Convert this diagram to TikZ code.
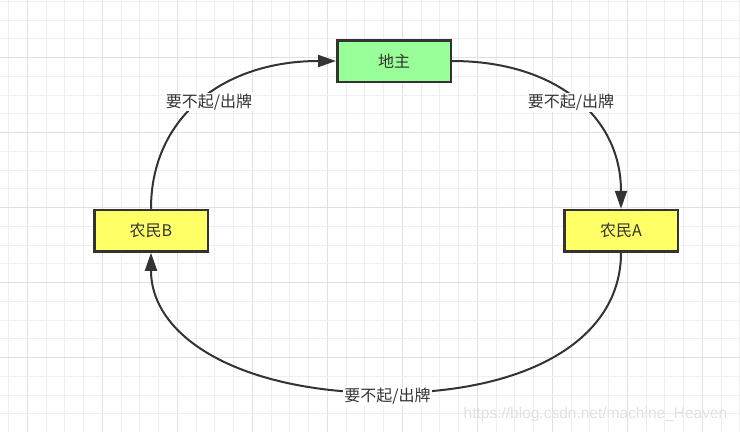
\documentclass[tikz,border=0pt]{standalone}
\usepackage{fontspec}
\setmainfont{Noto Sans CJK SC}
\newfontfamily\wmfont{Liberation Sans}
\usetikzlibrary{arrows.meta}
\definecolor{gridminor}{HTML}{EFEFEF}
\definecolor{gridmajor}{HTML}{E0E0E0}
\definecolor{strokec}{HTML}{333333}
\definecolor{greenfill}{HTML}{99FF99}
\definecolor{yellowfill}{HTML}{FFFF66}
\definecolor{wmcol}{HTML}{E2E2E2}
\tikzset{
  box/.style={draw=strokec, line width=2.5pt, minimum width=113.5pt, minimum height=41.5pt, inner sep=0pt, font=\fontsize{16}{16}\selectfont, text=strokec},
  edge/.style={draw=strokec, line width=2pt, -{Triangle[length=18pt,width=12pt]}},
  elabel/.style={fill=white, inner sep=1pt, font=\fontsize{16}{16}\selectfont, text=strokec}
}
\begin{document}
\begin{tikzpicture}[x=1pt,y=-1pt]
\useasboundingbox (0,0) rectangle (740,432);
\fill[white] (0,0) rectangle (740,432);
% grid
\foreach \k in {0,...,39}{
  \pgfmathsetmacro{\xx}{8.55+18.75*\k}
  \pgfmathtruncatemacro{\mm}{mod(\k,4)}
  \ifnum\mm=1
    \draw[gridmajor, line width=1pt] (\xx,0) -- (\xx,432);
  \else
    \draw[gridminor, line width=1pt] (\xx,0) -- (\xx,432);
  \fi
}
\foreach \k in {0,...,22}{
  \pgfmathsetmacro{\yy}{1.25+18.75*\k}
  \pgfmathtruncatemacro{\mm}{mod(\k,4)}
  \ifnum\mm=3
    \draw[gridmajor, line width=1pt] (0,\yy) -- (740,\yy);
  \else
    \draw[gridminor, line width=1pt] (0,\yy) -- (740,\yy);
  \fi
}
% nodes
\node[box, fill=greenfill] (dz) at (394,61) {地主};
\node[box, fill=yellowfill] (nb) at (151,230.75) {农民B};
\node[box, fill=yellowfill] (na) at (621,230.75) {农民A};
\coordinate (m) at (387,393);
% edges
\draw[edge] (nb.north) .. controls +(0,-92) and +(-112,0) .. (dz.west);
\draw[edge] (dz.east) .. controls +(104,0) and +(0,-92) .. (na.north);
\draw[edge] (na.south) .. controls +(0,86) and +(142,0) .. (m) .. controls +(-144,0) and +(0,86) .. (nb.south);
% labels
\node[elabel] (l1) at (209,102) {要不起/出牌};
\node[elabel] (l2) at (571,102.5) {要不起/出牌};
\node[elabel] (l3) at (387.5,396) {要不起/出牌};
% watermark
\node[text=wmcol, font=\wmfont\fontsize{15.5}{15.5}\selectfont, inner sep=0pt] (wm) at (595.5,414.5) {https://blog.csdn.net/machine\_Heaven};
\end{tikzpicture}
\end{document}
